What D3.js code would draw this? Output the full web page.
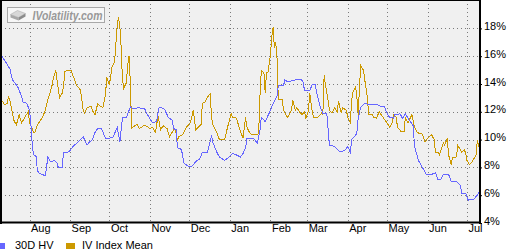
<!DOCTYPE html>
<html>
<head>
<meta charset="utf-8">
<script src="https://cdn.jsdelivr.net/npm/d3@7"></script>
<style>
  body { margin: 0; background: #fff; }
  svg { display: block; font-family: "Liberation Sans", Arial, sans-serif; }
</style>
</head>
<body>
<div id="chart"></div>
<script>
// Dimensions of the picture.
var width = 520;
var height = 250;

// Plot box (gray area) edges.
var plot = { left: 1, right: 480, top: 0, bottom: 223 };

// 30 day historical volatility.
var hvDates = [
  "2010-07-11","2010-07-13","2010-07-17","2010-07-19","2010-07-23","2010-07-26","2010-07-27","2010-07-30",
  "2010-08-01","2010-08-02","2010-08-03","2010-08-04","2010-08-06","2010-08-07","2010-08-08","2010-08-13",
  "2010-08-14","2010-08-15","2010-08-17","2010-08-20","2010-08-22","2010-08-23","2010-08-26","2010-08-27",
  "2010-08-30","2010-09-01","2010-09-03","2010-09-07","2010-09-11","2010-09-12","2010-09-14","2010-09-15",
  "2010-09-18","2010-09-20","2010-09-22","2010-09-25","2010-09-28","2010-10-01","2010-10-04","2010-10-07",
  "2010-10-09","2010-10-11","2010-10-14","2010-10-17","2010-10-19","2010-10-23","2010-10-28","2010-10-30",
  "2010-11-03","2010-11-06","2010-11-08","2010-11-12","2010-11-15","2010-11-18","2010-11-19","2010-11-21",
  "2010-11-22","2010-11-25","2010-11-27","2010-11-30","2010-12-03","2010-12-05","2010-12-07","2010-12-09",
  "2010-12-11","2010-12-15","2010-12-18","2010-12-19","2010-12-22","2010-12-24","2010-12-28","2010-12-31",
  "2011-01-03","2011-01-06","2011-01-09","2011-01-11","2011-01-13","2011-01-14","2011-01-19","2011-01-22",
  "2011-01-24","2011-01-25","2011-01-28","2011-02-01","2011-02-03","2011-02-06","2011-02-07","2011-02-11",
  "2011-02-12","2011-02-14","2011-02-20","2011-02-24","2011-02-26","2011-02-27","2011-03-03","2011-03-05",
  "2011-03-07","2011-03-09","2011-03-11","2011-03-13","2011-03-16","2011-03-18","2011-03-22","2011-03-26",
  "2011-03-30","2011-04-01","2011-04-03","2011-04-04","2011-04-07","2011-04-08","2011-04-09","2011-04-11",
  "2011-04-14","2011-04-16","2011-04-23","2011-04-26","2011-04-29","2011-05-01","2011-05-03","2011-05-06",
  "2011-05-07","2011-05-11","2011-05-13","2011-05-15","2011-05-18","2011-05-21","2011-05-22","2011-05-25",
  "2011-05-28","2011-05-31","2011-06-04","2011-06-07","2011-06-09","2011-06-11","2011-06-13","2011-06-17",
  "2011-06-19","2011-06-23","2011-06-26","2011-06-27","2011-06-30","2011-07-02","2011-07-06","2011-07-09",
  "2011-07-10"
];
var hvValues = [
  16.0,15.7,15.1,14.3,13.8,13.1,12.7,12.6,
  12.1,11.2,9.8,8.9,8.8,7.8,7.6,7.4,
  8.0,8.75,8.4,8.5,8.3,8.0,8.0,9.1,
  9.1,9.2,9.5,9.8,10.2,10.0,9.6,9.75,
  10.0,10.5,10.8,10.8,10.1,10.1,10.2,10.9,
  9.8,11.6,11.6,12.35,12.2,12.3,12.2,11.8,
  11.2,11.3,12.35,12.2,11.6,11.4,10.8,10.7,
  9.4,9.3,8.3,8.1,8.1,8.3,8.5,8.6,
  9.1,9.1,10.3,9.8,9.1,8.75,8.5,8.7,
  9.0,8.9,8.75,9.0,9.4,10.1,10.1,9.75,
  10.7,11.6,11.3,12.1,12.6,13.1,13.9,13.9,
  14.3,14.15,14.3,14.35,14.15,13.5,13.5,14.0,
  14.0,13.1,12.35,11.9,11.9,9.6,9.5,9.1,
  9.25,9.5,9.1,10.0,10.3,10.5,11.55,12.35,
  12.6,12.55,12.55,12.4,12.35,11.9,11.6,11.55,
  11.8,11.85,11.5,11.85,11.4,11.0,9.5,8.5,
  8.0,7.5,7.5,7.6,7.1,7.1,7.5,7.5,
  7.0,7.0,6.7,6.15,6.15,5.65,5.7,6.0,
  6.2
];

// Implied volatility index mean.
var ivDates = [
  "2010-07-11","2010-07-13","2010-07-15","2010-07-16","2010-07-17","2010-07-19","2010-07-20","2010-07-22",
  "2010-07-24","2010-07-26","2010-07-29","2010-07-31","2010-08-01","2010-08-04","2010-08-05","2010-08-07",
  "2010-08-11","2010-08-13","2010-08-15","2010-08-18","2010-08-19","2010-08-21","2010-08-22","2010-08-24",
  "2010-08-26","2010-08-27","2010-08-28","2010-08-30","2010-09-02","2010-09-03","2010-09-06","2010-09-09",
  "2010-09-11","2010-09-12","2010-09-14","2010-09-17","2010-09-18","2010-09-20","2010-09-22","2010-09-25",
  "2010-09-26","2010-09-28","2010-09-29","2010-10-01","2010-10-03","2010-10-05","2010-10-07","2010-10-08",
  "2010-10-09","2010-10-10","2010-10-11","2010-10-12","2010-10-14","2010-10-15","2010-10-16","2010-10-17",
  "2010-10-18","2010-10-19","2010-10-22","2010-10-24","2010-10-28","2010-11-01","2010-11-03","2010-11-05",
  "2010-11-06","2010-11-07","2010-11-09","2010-11-11","2010-11-14","2010-11-16","2010-11-18","2010-11-20",
  "2010-11-22","2010-11-23","2010-11-26","2010-11-29","2010-12-02","2010-12-04","2010-12-06","2010-12-08",
  "2010-12-10","2010-12-11","2010-12-13","2010-12-15","2010-12-17","2010-12-18","2010-12-19","2010-12-22",
  "2010-12-24","2010-12-28","2010-12-30","2011-01-02","2011-01-03","2011-01-06","2011-01-08","2011-01-11",
  "2011-01-13","2011-01-14","2011-01-16","2011-01-18","2011-01-22","2011-01-23","2011-01-24","2011-01-25",
  "2011-01-27","2011-01-28","2011-01-29","2011-01-30","2011-02-01","2011-02-02","2011-02-03","2011-02-04",
  "2011-02-05","2011-02-06","2011-02-07","2011-02-10","2011-02-11","2011-02-14","2011-02-16","2011-02-17",
  "2011-02-18","2011-02-20","2011-02-21","2011-02-24","2011-02-25","2011-02-27","2011-02-28","2011-03-02",
  "2011-03-03","2011-03-05","2011-03-06","2011-03-09","2011-03-12","2011-03-13","2011-03-14","2011-03-15",
  "2011-03-17","2011-03-18","2011-03-20","2011-03-22","2011-03-24","2011-03-25","2011-03-27","2011-03-28",
  "2011-03-31","2011-04-01","2011-04-03","2011-04-04","2011-04-05","2011-04-07","2011-04-08","2011-04-09",
  "2011-04-10","2011-04-11","2011-04-13","2011-04-14","2011-04-16","2011-04-17","2011-04-20","2011-04-21",
  "2011-04-22","2011-04-23","2011-04-25","2011-04-28","2011-05-01","2011-05-03","2011-05-05","2011-05-06",
  "2011-05-08","2011-05-09","2011-05-12","2011-05-14","2011-05-15","2011-05-17","2011-05-20","2011-05-22",
  "2011-05-24","2011-05-28","2011-05-30","2011-06-01","2011-06-04","2011-06-06","2011-06-07","2011-06-09",
  "2011-06-10","2011-06-13","2011-06-14","2011-06-16","2011-06-17","2011-06-19","2011-06-20","2011-06-23",
  "2011-06-24","2011-06-27","2011-06-29","2011-06-30","2011-07-01","2011-07-03","2011-07-05","2011-07-08",
  "2011-07-09","2011-07-10","2011-07-11"
];
var ivValues = [
  12.8,12.5,12.6,13.1,12.8,11.9,11.4,11.05,
  11.8,11.2,11.7,12.0,11.25,10.55,10.5,11.05,
  11.6,12.1,12.85,13.8,14.3,15.0,14.3,13.0,
  13.35,13.8,14.9,15.0,14.95,14.65,13.9,13.55,
  12.1,11.9,12.3,12.4,12.1,11.8,12.55,12.35,
  12.3,13.2,14.5,13.9,15.2,15.6,18.25,18.8,
  18.1,16.6,14.3,13.7,14.1,15.4,16.0,14.1,
  10.8,10.9,11.1,10.8,11.05,10.8,10.9,10.55,
  10.9,11.8,10.7,11.0,10.8,10.2,10.55,10.8,
  10.0,10.2,10.35,10.9,11.25,12.1,10.7,10.9,
  11.1,12.6,12.7,13.05,13.3,11.6,11.05,10.5,
  10.0,10.0,10.8,11.9,11.6,11.55,10.9,10.1,
  11.6,10.9,10.5,10.35,10.35,10.5,13.2,14.95,
  14.8,13.35,14.85,14.8,16.1,17.4,18.1,16.6,
  17.0,15.9,12.85,12.9,12.1,11.6,11.9,12.1,
  12.85,12.1,12.3,11.9,11.8,12.0,11.5,12.1,
  13.35,11.9,11.6,11.6,11.9,11.8,14.65,13.9,
  12.85,12.1,11.9,12.3,12.0,12.8,11.9,12.3,
  12.1,11.6,11.25,12.85,13.4,13.8,13.05,11.8,
  13.9,15.3,15.0,14.3,13.05,11.8,11.8,11.55,
  11.6,11.55,12.0,11.6,11.2,10.9,11.2,11.8,
  11.6,10.9,10.55,10.55,11.6,11.2,11.8,10.9,
  10.5,10.4,9.8,10.1,10.35,10.0,9.05,9.1,
  8.9,9.75,9.6,10.1,8.9,8.2,8.7,8.75,
  9.6,9.1,9.25,9.05,8.5,8.2,8.4,8.9,
  10.0,9.45,10.3
];

// Axis settings.
var dateRange = ["2010-07-11", "2011-07-11"];
var pctTicks = [4, 6, 8, 10, 12, 14, 16, 18];
var pctGrid = [6, 8, 10, 12, 14, 16, 18];

// Legend.
var seriesNames = ["30D HV", "IV Index Mean"];
var colors = { "30D HV": "#6666ff", "IV Index Mean": "#cc9900" };

var parse = d3.timeParse("%Y-%m-%d");

function zip(dates, values) {
  return dates.map(function(d, i) { return { date: parse(d), value: values[i] }; });
}
var hv = zip(hvDates, hvValues);
var iv = zip(ivDates, ivValues);

var x = d3.scaleTime()
    .domain(dateRange.map(parse))
    .range([2, 480]);
var y = d3.scaleLinear()
    .domain([4, 20])
    .range([223, 0.6]);

var svg = d3.select("#chart").append("svg")
    .attr("width", width)
    .attr("height", height);

// Gray plot background.
svg.append("rect")
    .attr("x", plot.left)
    .attr("y", plot.top)
    .attr("width", plot.right - plot.left)
    .attr("height", plot.bottom - plot.top)
    .style("fill", "#f0f0f0");

// Dotted grid.
var months = x.ticks(d3.timeMonth.every(1));
svg.append("g").selectAll("line")
    .data(months)
  .enter().append("line")
    .attr("x1", function(d) { return Math.round(x(d)) + 0.5; })
    .attr("x2", function(d) { return Math.round(x(d)) + 0.5; })
    .attr("y1", plot.top)
    .attr("y2", plot.bottom)
    .style("stroke", "#7a7a7a")
    .style("stroke-dasharray", "1,3")
    .style("shape-rendering", "crispEdges");
svg.append("g").selectAll("line")
    .data(pctGrid)
  .enter().append("line")
    .attr("x1", plot.left)
    .attr("x2", plot.right)
    .attr("y1", function(d) { return Math.round(y(d)) + 0.5; })
    .attr("y2", function(d) { return Math.round(y(d)) + 0.5; })
    .style("stroke", "#7a7a7a")
    .style("stroke-dasharray", "1,3")
    .style("shape-rendering", "crispEdges");

// Logo box.
var logo = svg.append("g").attr("transform", "translate(7.5,7.5)");
logo.append("rect")
    .attr("width", 97).attr("height", 15)
    .style("fill", "#f7f7f7")
    .style("stroke", "#a8a8a8");
logo.append("polygon")
    .attr("points", "3,7 10,3 18,6 11,10")
    .style("fill", "#d8d8d8").style("stroke", "#b0b0b0").style("stroke-width", 0.6);
logo.append("polygon")
    .attr("points", "3,7 11,10 11,13 3,10")
    .style("fill", "#a8a8a8");
logo.append("polygon")
    .attr("points", "11,10 18,6 18,9 11,13")
    .style("fill", "#8c8c8c");
logo.append("text")
    .attr("x", 25)
    .attr("y", 12)
    .attr("textLength", 70)
    .attr("lengthAdjust", "spacingAndGlyphs")
    .style("font-size", "12.5px")
    .style("font-weight", "bold")
    .style("font-style", "italic")
    .style("fill", "#999")
    .text("IVolatility.com");

// Lines.
var line = d3.line()
    .x(function(d) { return x(d.date); })
    .y(function(d) { return y(d.value); });

[[iv, "IV Index Mean"], [hv, "30D HV"]].forEach(function(s) {
  svg.append("path")
      .datum(s[0])
      .attr("d", line)
      .style("fill", "none")
      .style("stroke", colors[s[1]])
      .style("stroke-width", 1)
      .style("shape-rendering", "crispEdges");
});

// Frame: left edge, top edge, right axis line, bottom axis line.
svg.append("line").attr("x1", 1).attr("x2", 1).attr("y1", 0).attr("y2", 224)
    .style("stroke", "#000").style("stroke-width", 2);
svg.append("line").attr("x1", 0).attr("x2", 481).attr("y1", 0.5).attr("y2", 0.5)
    .style("stroke", "#000").style("stroke-width", 1);

// Right axis.
var yAxis = svg.append("g")
    .attr("transform", "translate(480,0)")
    .call(d3.axisRight(y)
      .tickValues(pctTicks)
      .tickSize(2)
      .tickPadding(2)
      .tickFormat(function(d) { return d + "%"; }));
yAxis.select(".domain").remove();
yAxis.selectAll("text")
    .attr("dy", "0.1em")
    .style("font-family", "'Liberation Sans', Arial, sans-serif")
    .style("font-size", "11px")
    .style("fill", "#000");
svg.append("line").attr("x1", 480).attr("x2", 480).attr("y1", 0).attr("y2", 224)
    .style("stroke", "#000").style("stroke-width", 2);

// Bottom axis with month names starting at the month line.
var xAxis = svg.append("g")
    .attr("transform", "translate(0,223)")
    .call(d3.axisBottom(x)
      .ticks(d3.timeMonth.every(1))
      .tickSize(0)
      .tickPadding(0)
      .tickFormat(d3.timeFormat("%b")));
xAxis.select(".domain").remove();
xAxis.selectAll("text")
    .attr("text-anchor", "start")
    .attr("x", 1)
    .attr("y", 9)
    .attr("dy", "0")
    .style("font-family", "'Liberation Sans', Arial, sans-serif")
    .style("font-size", "11px")
    .style("fill", "#000");
svg.append("line").attr("x1", 0).attr("x2", 481).attr("y1", 222.5).attr("y2", 222.5)
    .style("stroke", "#000").style("stroke-width", 2);

// Legend.
var legendX = [0, 66];
var legend = svg.append("g").selectAll("g")
    .data(seriesNames)
  .enter().append("g")
    .attr("transform", function(d, i) { return "translate(" + legendX[i] + ",242)"; });
legend.append("rect")
    .attr("x", 0)
    .attr("y", 1)
    .attr("width", function(d, i) { return i === 0 ? 5 : 9; })
    .attr("height", 6)
    .style("fill", function(d) { return colors[d]; });
legend.append("text")
    .attr("x", function(d, i) { return i === 0 ? 15 : 16; })
    .attr("y", 6)
    .attr("dy", "0.1em")
    .style("font-size", "11px")
    .style("fill", "#000")
    .text(function(d) { return d; });
</script>
</body>
</html>
